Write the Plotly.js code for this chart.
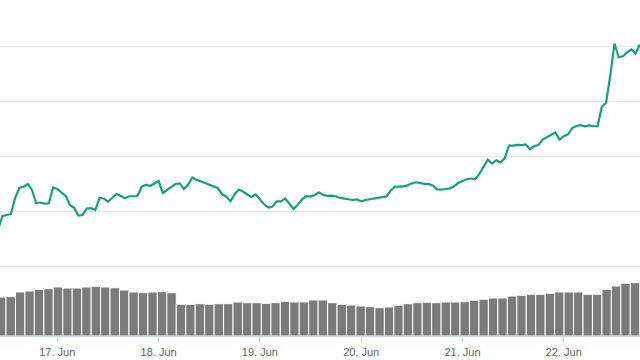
<!DOCTYPE html>
<html>
<head>
<meta charset="utf-8">
<script src="https://cdn.plot.ly/plotly-3.0.1.min.js"></script>
<style>
  html, body { margin: 0; padding: 0; background: #ffffff; }
  #chart { width: 640px; height: 360px; }
</style>
</head>
<body>
<div id="chart"></div>
<script>
// Price series: hourly closes starting 16 Jun 2019 10:00
const priceStart = '2019-06-16 10:00:00';
const priceStepMs = 3600000;
const priceValues = [
  8841, 8959, 8968, 8977, 9122, 9213, 9225, 9249, 9195, 9077,
  9081, 9072, 9074, 9218, 9204, 9172, 9140, 9059, 9031, 8963,
  8968, 9027, 9031, 9013, 9122, 9118, 9090, 9122, 9158, 9143,
  9120, 9138, 9142, 9140, 9225, 9243, 9231, 9253, 9277, 9168,
  9195, 9216, 9249, 9255, 9204, 9245, 9308, 9287, 9272, 9258,
  9240, 9227, 9213, 9158, 9136, 9093, 9154, 9199, 9181, 9154,
  9131, 9154, 9113, 9065, 9036, 9045, 9092, 9092, 9118, 9068,
  9022, 9063, 9110, 9140, 9135, 9149, 9174, 9149, 9142, 9143,
  9138, 9123, 9115, 9112, 9104, 9109, 9091, 9104, 9110, 9113,
  9119, 9127, 9137, 9190, 9225, 9225, 9227, 9237, 9255, 9265,
  9254, 9250, 9251, 9234, 9201, 9198, 9204, 9210, 9229, 9258,
  9277, 9292, 9299, 9292, 9342, 9413, 9470, 9435, 9465, 9446,
  9482, 9598, 9598, 9605, 9603, 9608, 9565, 9594, 9603, 9653,
  9676, 9699, 9717, 9653, 9683, 9699, 9758, 9776, 9783, 9773,
  9781, 9776, 9774, 9951, 9985, 10230, 10525, 10401, 10410, 10444,
  10471, 10433, 10516
];

// Volume series: grouped columns
const volumeStart = '2019-06-16 10:43:31';
const volumeStepMs = 8067695;
const volumeValues = [
  1950, 1965, 2200, 2250, 2335, 2365, 2450, 2400, 2400, 2450,
  2485, 2450, 2415, 2300, 2200, 2165, 2200, 2215, 2165, 1585,
  1585, 1615, 1585, 1615, 1615, 1700, 1665, 1665, 1635, 1665,
  1735, 1700, 1700, 1800, 1800, 1665, 1585, 1550, 1500, 1465,
  1415, 1450, 1535, 1615, 1665, 1685, 1665, 1700, 1700, 1715,
  1785, 1835, 1900, 1900, 2000, 2035, 2085, 2085, 2135, 2200,
  2200, 2200, 2085, 2085, 2335, 2500, 2635, 2665
];

// Axis ticks
const tickVals = ['2019-06-17', '2019-06-18', '2019-06-19', '2019-06-20', '2019-06-21', '2019-06-22'];
const tickText = ['17. Jun', '18. Jun', '19. Jun', '20. Jun', '21. Jun', '22. Jun'];
const xRange = ['2019-06-16 10:25:30', '2019-06-22 18:03:12'];

const traces = [
  {
    type: 'bar',
    x0: volumeStart,
    dx: volumeStepMs,
    y: volumeValues,
    xaxis: 'x',
    yaxis: 'y2',
    marker: { color: '#7b7b7b', line: { color: '#ffffff', width: 1 } },
    hoverinfo: 'none'
  },
  {
    type: 'scatter',
    mode: 'lines',
    x0: priceStart,
    dx: priceStepMs,
    y: priceValues,
    xaxis: 'x',
    yaxis: 'y',
    line: { color: '#13a37a', width: 2.2 },
    hoverinfo: 'none'
  }
];

const layout = {
  width: 640,
  height: 360,
  margin: { l: 0, r: 0, t: 0, b: 24, pad: 0 },
  paper_bgcolor: '#ffffff',
  plot_bgcolor: 'rgba(0,0,0,0)',
  showlegend: false,
  bargap: 0,
  font: { family: 'Arial, "Liberation Sans", Helvetica, sans-serif', size: 11, color: '#666666' },
  xaxis: {
    type: 'date',
    range: xRange,
    anchor: 'y2',
    showgrid: false,
    zeroline: false,
    showline: true,
    linecolor: '#ccd6eb',
    linewidth: 1,
    ticks: 'outside',
    ticklen: 6,
    tickwidth: 1,
    tickcolor: '#ccd6eb',
    tickmode: 'array',
    tickvals: tickVals,
    ticktext: tickText,
    tickfont: { size: 11, color: '#666666' }
  },
  yaxis: {
    domain: [0.16667, 1],
    range: [8377.4, 10920.5],
    tickmode: 'linear',
    tick0: 8500,
    dtick: 500,
    showticklabels: false,
    showgrid: true,
    gridcolor: '#e6e6e6',
    gridwidth: 1,
    zeroline: false,
    showline: false,
    ticks: ''
  },
  yaxis2: {
    domain: [0, 0.19],
    range: [0, 3192],
    showticklabels: false,
    showgrid: false,
    zeroline: false,
    showline: false,
    ticks: ''
  }
};

Plotly.newPlot('chart', traces, layout, { staticPlot: true, displayModeBar: false });
</script>
</body>
</html>
